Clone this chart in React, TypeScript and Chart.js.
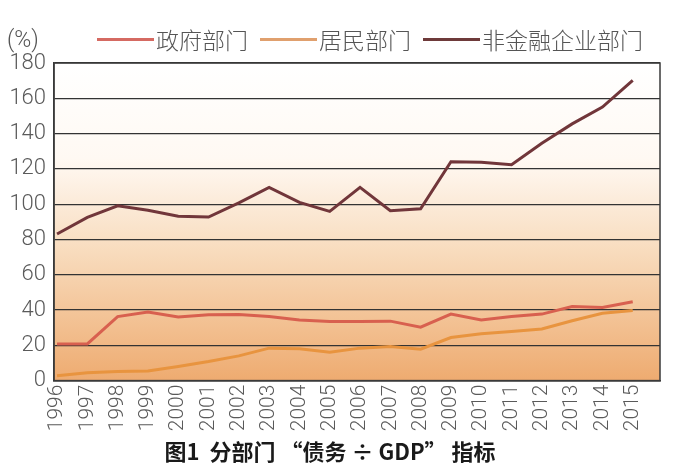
import React, { useEffect, useRef } from "react";
import { Chart, registerables } from "chart.js";

Chart.register(...registerables);

const YEARS = [1996, 1997, 1998, 1999, 2000, 2001, 2002, 2003, 2004, 2005, 2006, 2007, 2008, 2009, 2010, 2011, 2012, 2013, 2014, 2015];
const GOV = [20.8, 20.8, 36.3, 38.8, 36.0, 37.3, 37.5, 36.3, 34.4, 33.5, 33.5, 33.7, 30.3, 37.7, 34.4, 36.3, 37.7, 42.0, 41.4, 44.7];
const HOUSEHOLD = [2.7, 4.5, 5.1, 5.5, 8.0, 10.8, 14.0, 18.4, 18.0, 16.1, 18.4, 19.3, 17.8, 24.4, 26.5, 27.8, 29.3, 33.9, 38.2, 39.7];
const NONFIN = [83.1, 92.5, 99.1, 96.5, 93.1, 92.7, 100.7, 109.5, 101.0, 95.9, 109.5, 96.3, 97.4, 124.0, 123.7, 122.4, 134.5, 145.5, 155.0, 170.1];
const SERIES_NAMES = ["政府部门", "居民部门", "非金融企业部门"];
const SERIES_COLORS = ["#d8604f", "#e8943f", "#71363a"];
const LEGEND_COLORS = ["#d56a62", "#e0a06e", "#6e3a3a"];
const Y_UNIT = "(%)";
const TITLE = "图1  分部门 “债务 ÷ GDP” 指标";

const FONT = "Roboto, 'Noto Sans CJK SC', sans-serif";

const bgPlugin = {
  id: "bgGradient",
  beforeDraw(chart: any) {
    const { ctx, chartArea } = chart;
    if (!chartArea) return;
    const g = ctx.createLinearGradient(0, chartArea.top, 0, chartArea.bottom);
    g.addColorStop(0, "#ffffff");
    g.addColorStop(0.3, "#fff9f3");
    g.addColorStop(0.6, "#f8dbbc");
    g.addColorStop(1, "#eeab70");
    ctx.save();
    ctx.fillStyle = g;
    ctx.fillRect(chartArea.left, chartArea.top, chartArea.right - chartArea.left, chartArea.bottom - chartArea.top);
    ctx.restore();
  },
  afterDraw(chart: any) {
    const { ctx, chartArea } = chart;
    ctx.save();
    ctx.strokeStyle = "#3a3a3a";
    ctx.lineWidth = 1.5;
    ctx.strokeRect(chartArea.left, chartArea.top, chartArea.right - chartArea.left, chartArea.bottom - chartArea.top);
    ctx.restore();
  },
};

function ChartCanvas() {
  const ref = useRef<HTMLCanvasElement | null>(null);
  useEffect(() => {
    if (!ref.current) return;
    const values = [GOV, HOUSEHOLD, NONFIN];
    const chart = new Chart(ref.current, {
      type: "line",
      data: {
        datasets: SERIES_NAMES.map((name, i) => ({
          label: name,
          data: YEARS.map((y, j) => ({ x: y, y: values[i][j] })),
          borderColor: SERIES_COLORS[i],
          backgroundColor: SERIES_COLORS[i],
          borderWidth: 3,
          pointRadius: 0,
          tension: 0,
          fill: false,
        })),
      },
      options: {
        responsive: false,
        animation: false,
        layout: { padding: { top: 63, right: 18, left: 0, bottom: 0 } },
        plugins: {
          legend: { display: false },
          tooltip: { enabled: false },
          title: {
            display: true,
            position: "bottom",
            text: TITLE,
            color: "#1a1a1a",
            font: { family: "'Noto Sans CJK SC', sans-serif", size: 22, weight: "bold", lineHeight: 1.2 },
            padding: { top: 2, bottom: 4 },
          },
        },
        scales: {
          x: {
            type: "linear",
            min: 1995.9,
            max: 2015.9,
            afterBuildTicks: (scale: any) => {
              scale.ticks = YEARS.map((v) => ({ value: v }));
            },
            afterFit: (scale: any) => {
              scale.height = 56;
            },
            grid: { display: false, drawTicks: false },
            border: { display: true, color: "#3a3a3a", width: 1.5 },
            ticks: {
              autoSkip: false,
              minRotation: 90,
              maxRotation: 90,
              padding: 4,
              color: "#5a5a5a",
              font: { family: FONT, size: 21, weight: "300" },
              callback: (v: any) => String(v),
            },
          },
          y: {
            min: 0,
            max: 180,
            afterFit: (scale: any) => {
              scale.width = 54;
            },
            grid: { color: "#333333", lineWidth: 1.2, drawTicks: false },
            border: { display: true, color: "#3a3a3a", width: 1.5 },
            ticks: {
              stepSize: 20,
              padding: 8,
              color: "#5a5a5a",
              font: { family: FONT, size: 22, weight: "300" },
            },
          },
        },
      },
      plugins: [bgPlugin],
    } as any);
    return () => chart.destroy();
  }, []);
  return <canvas ref={ref} width={678} height={469} style={{ display: "block" }} />;
}

export default function App() {
  return (
    <div style={{ position: "fixed", left: 0, top: 0, width: 678, height: 469, background: "#fff", overflow: "hidden" }}>
      <ChartCanvas />
      <div
        style={{
          position: "absolute",
          left: 7,
          top: 26,
          fontFamily: FONT,
          fontWeight: 300,
          fontSize: 23,
          lineHeight: "28px",
          color: "#555",
        }}
      >
        {Y_UNIT}
      </div>
      <div
        style={{
          position: "absolute",
          left: 97,
          top: 25,
          display: "flex",
          alignItems: "center",
          height: 28,
          fontFamily: "'Noto Sans CJK SC', sans-serif",
          fontWeight: 300,
          fontSize: 23,
          color: "#555",
        }}
      >
        {SERIES_NAMES.map((name, i) => (
          <div key={name} style={{ display: "flex", alignItems: "center", marginRight: 12 }}>
            <span style={{ display: "inline-block", width: 57, height: 3, background: LEGEND_COLORS[i], marginRight: 2 }} />
            <span style={{ lineHeight: "28px", whiteSpace: "nowrap" }}>{name}</span>
          </div>
        ))}
      </div>
    </div>
  );
}
